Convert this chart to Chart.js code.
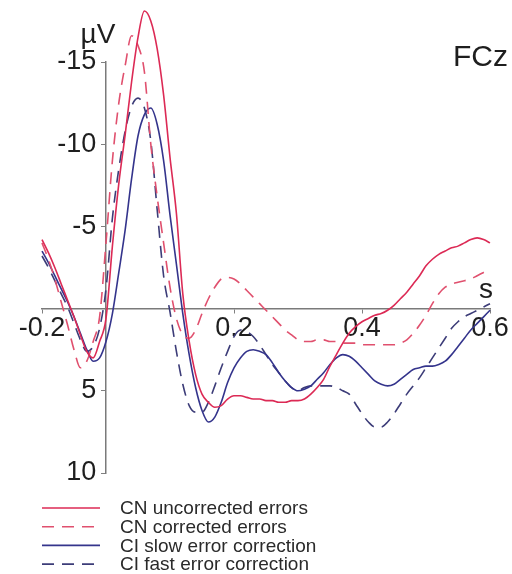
<!DOCTYPE html>
<html>
<head>
<meta charset="utf-8">
<script src="https://cdn.jsdelivr.net/npm/chart.js@4.4.1/dist/chart.umd.min.js"></script>
<style>
  html, body { margin: 0; padding: 0; background: #ffffff; }
  canvas { display: block; }
</style>
</head>
<body>
<canvas id="erp" width="512" height="574"></canvas>
<script>
// Response-locked ERP at FCz (µV, negative up), time in seconds
const times = [
  -0.10, -0.09, -0.08, -0.07, -0.06, -0.05, -0.04, -0.03, -0.02, -0.01,
   0.00,  0.01,  0.02,  0.03,  0.04,  0.05,  0.06,  0.07,  0.08,  0.09,
   0.10,  0.11,  0.12,  0.13,  0.14,  0.15,  0.16,  0.17,  0.18,  0.19,
   0.20,  0.21,  0.22,  0.23,  0.24,  0.25,  0.26,  0.27,  0.28,  0.29,
   0.30,  0.31,  0.32,  0.33,  0.34,  0.35,  0.36,  0.37,  0.38,  0.39,
   0.40,  0.41,  0.42,  0.43,  0.44,  0.45,  0.46,  0.47,  0.48,  0.49,
   0.50,  0.51,  0.52,  0.53,  0.54,  0.55,  0.56,  0.57,  0.58,  0.59,
   0.60
];

const cnUncorrected = [
  -4.2, -3.4, -2.5, -1.5, -0.5,  0.5,  1.6,  2.6,  3.0,  2.0,
   0.6, -3.8, -7.6, -10.6, -13.8, -16.5, -18.1, -17.5, -15.8, -13.0,
  -9.2, -5.8, -0.9,  2.0,  4.0,  5.2,  5.7,  6.0,  5.9,  5.5,
   5.3,  5.3,  5.4,  5.5,  5.5,  5.6,  5.6,  5.7,  5.7,  5.6,
   5.6,  5.5,  5.2,  4.8,  4.3,  3.5,  2.8,  2.1,  1.5,  1.1,
   0.8,  0.6,  0.4,  0.3,  0.1, -0.2, -0.6, -1.0, -1.5, -2.0,
  -2.6, -3.0, -3.3, -3.5, -3.7, -3.8, -4.0, -4.2, -4.3, -4.2,
  -4.0
];

const cnCorrected = [
  -4.0, -3.0, -1.8, -0.4,  1.0,  2.5,  3.6,  3.2,  2.0,  0.5,
  -4.0, -9.0, -12.5, -14.8, -16.6, -16.0, -14.4, -10.0, -6.8, -4.0,
  -1.3,  0.6,  1.6,  1.8,  1.3,  0.3, -0.6, -1.3, -1.8, -1.9,
  -1.8, -1.5, -1.1, -0.7, -0.3,  0.1,  0.5,  0.9,  1.3,  1.6,
   1.9,  2.0,  2.0,  1.9,  1.9,  2.0,  2.0,  2.1,  2.1,  2.1,
   2.2,  2.2,  2.2,  2.2,  2.2,  2.2,  2.1,  1.9,  1.5,  1.0,
   0.4, -0.3, -0.9, -1.3, -1.5, -1.6, -1.7, -1.8, -2.0, -2.2,
  -2.4
];

const ciSlow = [
  -3.5, -2.8, -2.0, -1.2, -0.4,  0.5,  1.5,  2.5,  3.2,  3.0,
   2.0,  0.3, -2.2, -4.8, -7.9, -10.5, -11.8, -12.2, -11.2, -9.0,
  -5.7, -2.7,  0.3,  2.8,  4.8,  6.2,  6.9,  6.6,  5.7,  4.5,
   3.6,  3.0,  2.6,  2.5,  2.6,  2.8,  3.3,  3.9,  4.4,  4.8,
   5.0,  4.9,  4.7,  4.3,  3.9,  3.4,  3.0,  2.8,  2.9,  3.2,
   3.6,  4.0,  4.4,  4.6,  4.7,  4.6,  4.3,  4.0,  3.7,  3.6,
   3.5,  3.5,  3.4,  3.2,  2.8,  2.3,  1.8,  1.3,  0.9,  0.5,
   0.1
];

const ciFast = [
  -3.2, -2.5, -1.7, -0.9, -0.1,  0.9,  1.9,  2.6,  2.3,  1.2,
  -1.2, -5.5, -8.5, -10.8, -12.3, -12.8, -12.2, -10.2, -6.0, -2.0,
   0.2,  2.6,  4.6,  5.9,  6.3,  6.3,  5.7,  4.7,  3.6,  2.6,
   1.7,  1.3,  1.4,  1.7,  2.2,  2.8,  3.4,  3.9,  4.4,  4.8,
   5.0,  4.8,  4.7,  4.7,  4.7,  4.7,  4.8,  5.0,  5.2,  5.8,
   6.4,  6.9,  7.2,  7.2,  6.9,  6.4,  5.8,  5.2,  4.7,  4.2,
   3.6,  3.0,  2.4,  1.8,  1.2,  0.8,  0.5,  0.3,  0.1, -0.1,
  -0.3
];

const seriesLabels = [
  'CN uncorrected errors',
  'CN corrected errors',
  'CI slow error correction',
  'CI fast error correction'
];

const xTickValues = [-0.1, 0.2, 0.4, 0.6];
const xTickLabels = ['-0.2', '0.2', '0.4', '0.6'];
const yTickValues = [-15, -10, -5, 0, 5, 10];
const yTickLabels = ['-15', '-10', '-5', '', '5', '10'];

const FONT = '"Liberation Sans", Arial, Helvetica, sans-serif';
const RED = '#dc2a55';
const RED_DASH = '#e0506e';
const BLUE = '#34348c';
const BLUE_DASH = '#3c3c78';
const DASH = [12, 8];
// gap between a y label and the axis line (the axis sits inside the plot)
const Y_LABEL_GAP = ' \u200A';

function toPoints(values) {
  return times.map((t, i) => ({ x: t, y: values[i] }));
}

function makeSet(label, values, color, dash) {
  return {
    label: label,
    data: toPoints(values),
    borderColor: color,
    backgroundColor: color,
    borderWidth: 1.6,
    borderDash: dash,
    pointRadius: 0,
    fill: false,
    cubicInterpolationMode: 'monotone',
    clip: false
  };
}

// Text around the axes: unit, electrode name, time unit
const axisText = {
  id: 'axisText',
  afterDraw(chart) {
    const { ctx, scales } = chart;
    const xs = scales.x, ys = scales.y;
    ctx.save();
    ctx.fillStyle = '#1e1e1e';
    ctx.textBaseline = 'alphabetic';
    ctx.font = '28px ' + FONT;
    ctx.textAlign = 'center';
    ctx.fillText('µV', xs.getPixelForValue(0) - 8, ys.getPixelForValue(-15) - 19);
    ctx.fillText('s', xs.getPixelForValue(0.6) - 4, ys.getPixelForValue(0) - 11);
    ctx.font = '30px ' + FONT;
    ctx.textAlign = 'right';
    ctx.fillText('FCz', 508, 66);
    ctx.restore();
  }
};

// Stacked legend rows under the plot
const legendRows = {
  id: 'legendRows',
  afterDraw(chart) {
    const ctx = chart.ctx;
    const x0 = 42, x1 = 100, tx = 120, y0 = 508, dy = 18.7;
    chart.data.datasets.forEach((ds, i) => {
      const y = y0 + i * dy;
      ctx.save();
      ctx.strokeStyle = ds.borderColor;
      ctx.lineWidth = ds.borderWidth;
      ctx.setLineDash(ds.borderDash || []);
      ctx.beginPath();
      ctx.moveTo(x0, y);
      ctx.lineTo(x1, y);
      ctx.stroke();
      ctx.setLineDash([]);
      ctx.fillStyle = '#2a2a2a';
      ctx.font = '19px ' + FONT;
      ctx.textAlign = 'left';
      ctx.textBaseline = 'middle';
      ctx.fillText(ds.label, tx, y + 1);
      ctx.restore();
    });
  }
};

new Chart(document.getElementById('erp'), {
  type: 'line',
  data: {
    datasets: [
      makeSet(seriesLabels[0], cnUncorrected, RED, []),
      makeSet(seriesLabels[1], cnCorrected, RED_DASH, DASH),
      makeSet(seriesLabels[2], ciSlow, BLUE, []),
      makeSet(seriesLabels[3], ciFast, BLUE_DASH, DASH)
    ]
  },
  options: {
    responsive: false,
    animation: false,
    layout: { padding: { left: 42, right: 22, top: 62, bottom: 101 } },
    plugins: {
      legend: { display: false },
      tooltip: { enabled: false }
    },
    scales: {
      x: {
        type: 'linear',
        position: { y: 0 },
        min: -0.1,
        max: 0.6,
        afterBuildTicks(scale) {
          scale.ticks = xTickValues.map(v => ({ value: v }));
        },
        ticks: {
          autoSkip: false,
          maxRotation: 0,
          padding: 0,
          color: '#1e1e1e',
          font: { family: FONT, size: 27 },
          callback: (value, index) => xTickLabels[index]
        },
        grid: { drawOnChartArea: false, drawTicks: true, tickLength: 4, color: '#808080', lineWidth: 1 },
        border: { display: true, color: '#7a7a7a', width: 1.5 }
      },
      y: {
        type: 'linear',
        reverse: true,
        position: { x: 0 },
        min: -15,
        max: 10,
        afterBuildTicks(scale) {
          scale.ticks = yTickValues.map(v => ({ value: v }));
        },
        ticks: {
          autoSkip: false,
          color: '#1e1e1e',
          font: { family: FONT, size: 27 },
          callback: (value, index) => yTickLabels[index] ? yTickLabels[index] + Y_LABEL_GAP : ''
        },
        grid: { drawOnChartArea: false, drawTicks: true, tickLength: 4, color: '#808080', lineWidth: 1 },
        border: { display: true, color: '#7a7a7a', width: 1.5 }
      }
    }
  },
  plugins: [axisText, legendRows]
});
</script>
</body>
</html>
